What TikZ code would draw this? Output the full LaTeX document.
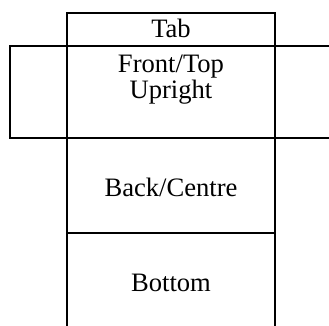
\documentclass[tikz,border=0pt]{standalone}
\usepackage{fontspec}
\setmainfont{Liberation Serif}
\begin{document}
\begin{tikzpicture}[x=1pt,y=-1pt,
  edge/.style={line width=2pt,line cap=rect},
  label/.style={anchor=base,inner sep=0pt,align=center,
    font=\fontsize{26.6}{25.5}\selectfont}]
  \useasboundingbox (0,0) rectangle (329,325);
  % box net: central column
  \draw[edge] (67,325) -- (67,13) -- (275,13) -- (275,325);
  \draw[edge] (67,233) -- (275,233);
  % left flap
  \draw[edge] (67,45.5) -- (10,45.5) -- (10,138) -- (67,138);
  % full-width folds
  \draw[edge] (67,45.5) -- (329,45.5);
  \draw[edge] (67,138) -- (329,138);
  % panel labels (a two-line node sits on its last baseline)
  \node[label] (tab) at (171,37.5) {Tab};
  \node[label] (front) at (171,98) {Front/Top\\Upright};
  \node[label] (back) at (171,196) {Back/Centre};
  \node[label] (bottom) at (171,291) {Bottom};
\end{tikzpicture}
\end{document}
